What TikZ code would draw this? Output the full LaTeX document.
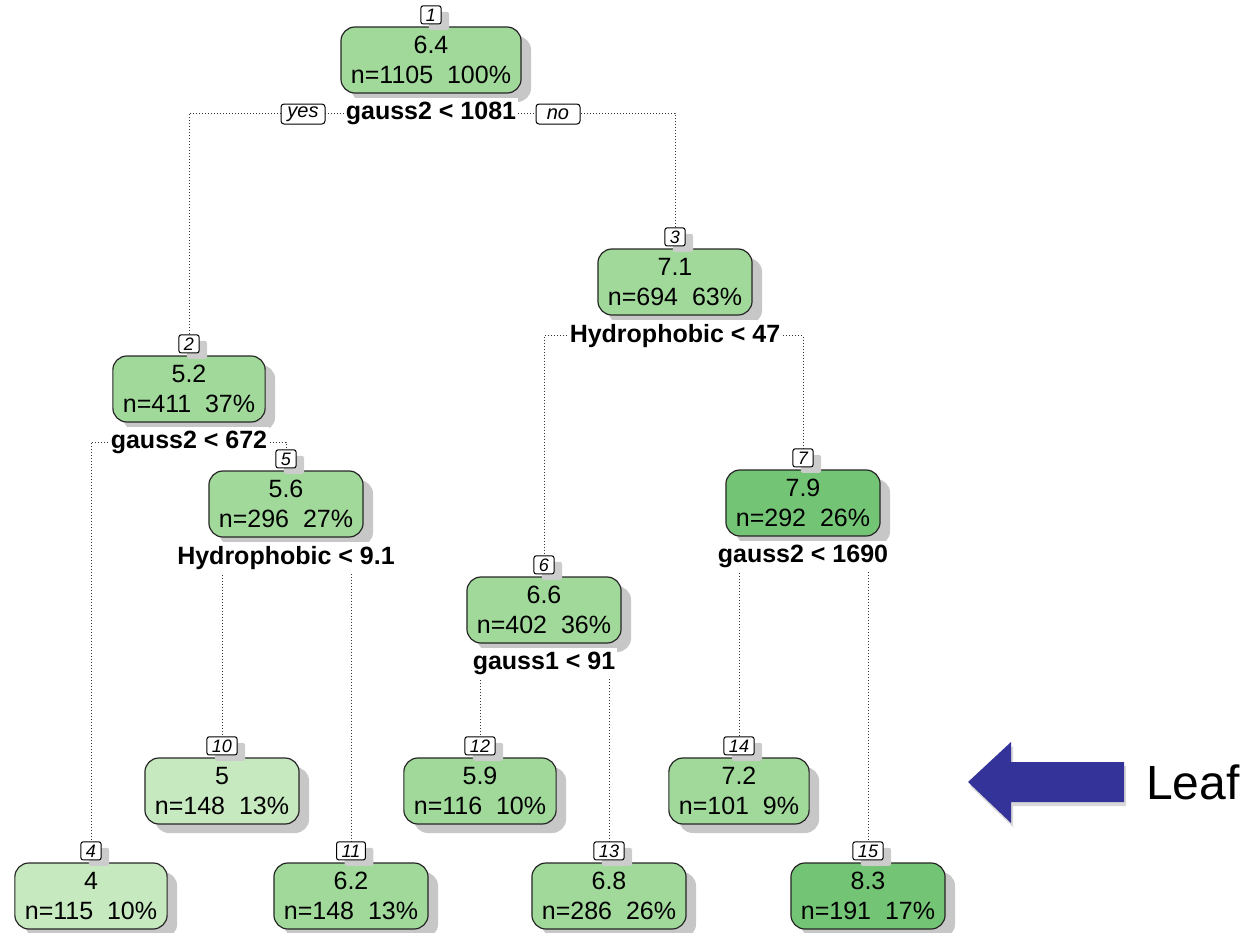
\documentclass[tikz,border=0pt]{standalone}
\usepackage{fontspec}
\setmainfont{Liberation Sans}
\usetikzlibrary{positioning, shadows, backgrounds}

\definecolor{lowgreen}{RGB}{199,233,192}
\definecolor{midgreen}{RGB}{161,217,155}
\definecolor{highgreen}{RGB}{116,196,118}
\definecolor{arrowblue}{RGB}{51,51,153}

\tikzset{
    treebox/.style={draw=black!85, line width=0.6pt, rounded corners=7pt,
        align=center, font=\fontsize{12.5}{15}\selectfont, inner xsep=5pt,
        minimum height=33pt,
        drop shadow={shadow xshift=5pt, shadow yshift=-4.5pt, fill=black!22, opacity=1}},
    numbox/.style={draw, fill=white, line width=0.5pt, rounded corners=1pt,
        font=\fontsize{9}{9}\selectfont\itshape, inner xsep=2.5pt, inner ysep=0pt,
        minimum height=9pt,
        drop shadow={shadow xshift=4pt, shadow yshift=-3pt, fill=black!20, opacity=1}},
    splitlabel/.style={fill=white, font=\fontsize{12.5}{14}\selectfont\bfseries,
        inner xsep=1pt, inner ysep=2pt},
    yesno/.style={draw, fill=white, rounded corners=1.5pt, line width=0.5pt,
        font=\fontsize{10}{10}\selectfont\itshape, inner sep=0pt,
        minimum width=22pt, minimum height=10pt},
    branch/.style={dash pattern=on 0.5pt off 1pt, line width=0.5pt, black!80}
}

\begin{document}
\begin{tikzpicture}[x=0.5pt, y=-0.5pt]

    \useasboundingbox (0,0) rectangle (1250,933);

    % Root
    \node[treebox, fill=midgreen] (n1) at (431,60) {6.4\\n=1105~~100\%};
    \node[numbox, above=1pt of n1] (l1) {1};
    \node[splitlabel, below=2pt of n1] (s1) {gauss2 < 1081};

    % Second level
    \node[treebox, fill=midgreen] (n2) at (189,389) {5.2\\n=411~~37\%};
    \node[numbox, above=1pt of n2] (l2) {2};
    \node[splitlabel, below=2pt of n2] (s2) {gauss2 < 672};

    \node[treebox, fill=midgreen] (n3) at (675,282) {7.1\\n=694~~63\%};
    \node[numbox, above=1pt of n3] (l3) {3};
    \node[splitlabel, below=2pt of n3] (s3) {Hydrophobic < 47};

    % Third level
    \node[treebox, fill=midgreen] (n5) at (286,504) {5.6\\n=296~~27\%};
    \node[numbox, above=1pt of n5] (l5) {5};
    \node[splitlabel, below=2pt of n5] (s5) {Hydrophobic < 9.1};

    \node[treebox, fill=midgreen] (n6) at (544,610) {6.6\\n=402~~36\%};
    \node[numbox, above=1pt of n6] (l6) {6};
    \node[splitlabel, below=2pt of n6] (s6) {gauss1 < 91};

    \node[treebox, fill=highgreen] (n7) at (803,503) {7.9\\n=292~~26\%};
    \node[numbox, above=1pt of n7] (l7) {7};
    \node[splitlabel, below=2pt of n7] (s7) {gauss2 < 1690};

    % Leaves, upper row
    \node[treebox, fill=lowgreen] (n10) at (222,791) {5\\n=148~~13\%};
    \node[numbox, above=1pt of n10] (l10) {10};
    \node[treebox, fill=midgreen] (n12) at (480,791) {5.9\\n=116~~10\%};
    \node[numbox, above=1pt of n12] (l12) {12};
    \node[treebox, fill=midgreen] (n14) at (739,791) {7.2\\n=101~~9\%};
    \node[numbox, above=1pt of n14] (l14) {14};

    % Leaves, lower row
    \node[treebox, fill=lowgreen] (n4) at (91,896) {4\\n=115~~10\%};
    \node[numbox, above=1pt of n4] (l4) {4};
    \node[treebox, fill=midgreen] (n11) at (351,896) {6.2\\n=148~~13\%};
    \node[numbox, above=1pt of n11] (l11) {11};
    \node[treebox, fill=midgreen] (n13) at (609,896) {6.8\\n=286~~26\%};
    \node[numbox, above=1pt of n13] (l13) {13};
    \node[treebox, fill=highgreen] (n15) at (868,896) {8.3\\n=191~~17\%};
    \node[numbox, above=1pt of n15] (l15) {15};

    % Branches (behind the labels)
    \begin{pgfonlayer}{background}
        \draw[branch] (s1.center) -| (l2.north);
        \draw[branch] (s1.center) -| (l3.north);
        \draw[branch] (s2.center) -| (l4.north);
        \draw[branch] (s2.center) -| (l5.north);
        \draw[branch] (s3.center) -| (l6.north);
        \draw[branch] (s3.center) -| (l7.north);
        \draw[branch] (s5.center) -| (l10.north);
        \draw[branch] (s5.center) -| (l11.north);
        \draw[branch] (s6.center) -| (l12.north);
        \draw[branch] (s6.center) -| (l13.north);
        \draw[branch] (s7.center) -| (l14.north);
        \draw[branch] (s7.center) -| (l15.north);
    \end{pgfonlayer}

    % yes / no
    \node[yesno] (yes) at (303,114) {yes};
    \node[yesno] (no) at (558,114) {no};

    % Leaf pointer
    \fill[arrowblue, drop shadow={shadow xshift=1pt, shadow yshift=-2pt, fill=black!30, opacity=0.5}]
        (968,782) -- (1011,742) -- (1011,762) -- (1124,762)
        -- (1124,802) -- (1011,802) -- (1011,823) -- cycle;
    \node[font=\fontsize{24}{24}\selectfont] (leaf) at (1193,782) {Leaf};

\end{tikzpicture}
\end{document}
